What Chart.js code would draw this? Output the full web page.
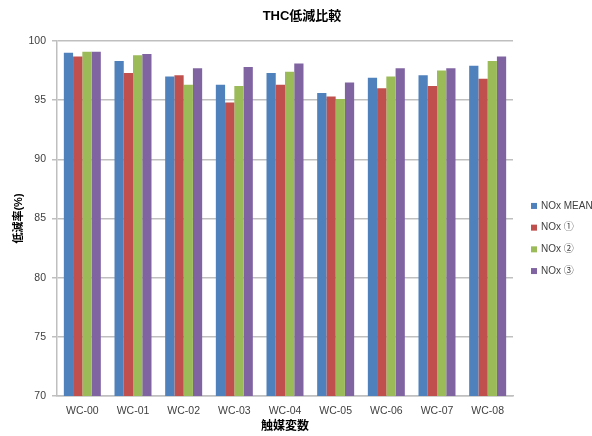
<!DOCTYPE html>
<html>
<head>
<meta charset="utf-8">
<script src="https://cdn.jsdelivr.net/npm/chart.js@4"></script>
<style>
  html, body { margin: 0; padding: 0; background: #fff; }
  #wrap { width: 592px; height: 436px; }
</style>
</head>
<body>
<div id="wrap"><canvas id="thcChart" width="592" height="436"></canvas></div>
<script>
// data
const categories = ["WC-00", "WC-01", "WC-02", "WC-03", "WC-04", "WC-05", "WC-06", "WC-07", "WC-08"];
const seriesNames = ["NOx MEAN", "NOx \u2460", "NOx \u2461", "NOx \u2462"];
const noxMean = [99.0, 98.3, 97.0, 96.3, 97.3, 95.6, 96.9, 97.1, 97.9];
const nox1 = [98.7, 97.3, 97.1, 94.8, 96.3, 95.3, 96.0, 96.2, 96.8];
const nox2 = [99.1, 98.8, 96.3, 96.2, 97.4, 95.1, 97.0, 97.5, 98.3];
const nox3 = [99.1, 98.9, 97.7, 97.8, 98.1, 96.5, 97.7, 97.7, 98.7];
const yMin = 70, yMax = 100, yStep = 5;

const colors = ["#4F81BD", "#C0504D", "#9BBB59", "#8064A2"];
const fontFamily = "'Liberation Sans', 'Noto Sans CJK JP', sans-serif";
const gridColor = "#bfbfbf";

// simple legend at the right, like Excel's
const sideLegend = {
  id: "sideLegend",
  afterDraw(chart) {
    const { ctx, chartArea } = chart;
    const step = 21.7;
    const x = chartArea.right + 18;
    const y0 = (chartArea.top + chartArea.bottom) / 2 - 1.5 * step + 20;
    ctx.save();
    ctx.font = "10px " + fontFamily;
    ctx.textBaseline = "middle";
    chart.data.datasets.forEach((ds, i) => {
      const y = y0 + i * step;
      ctx.fillStyle = ds.backgroundColor;
      ctx.fillRect(x, y - 3, 6, 6);
      ctx.fillStyle = "#404040";
      ctx.fillText(ds.label, x + 10, y);
    });
    ctx.restore();
  }
};

const seriesData = [noxMean, nox1, nox2, nox3];

new Chart(document.getElementById("thcChart"), {
  type: "bar",
  data: {
    labels: categories,
    datasets: seriesData.map((d, i) => ({
      label: seriesNames[i],
      data: d,
      backgroundColor: colors[i],
      borderWidth: 0,
      categoryPercentage: 0.73,
      barPercentage: 1.0,
    })),
  },
  options: {
    responsive: false,
    animation: false,
    layout: { padding: { left: 12, right: 0, top: 0, bottom: 0 } },
    plugins: {
      legend: { display: false },
      tooltip: { enabled: false },
      title: {
        display: true,
        text: "THC低減比較",
        color: "#000",
        font: { family: fontFamily, size: 13, weight: "bold" },
        padding: { top: 9, bottom: 16.4 },
      },
    },
    scales: {
      x: {
        grid: { display: false, drawTicks: false },
        border: { color: gridColor, width: 1.5 },
        ticks: { color: "#404040", font: { family: fontFamily, size: 10.5 }, padding: 9 },
        title: {
          display: true,
          text: "触媒変数",
          color: "#000",
          font: { family: fontFamily, size: 12, weight: "bold" },
          padding: { top: 0, bottom: 2 },
        },
        afterFit(scale) { scale.height = 40; },
      },
      y: {
        min: yMin,
        max: yMax,
        grid: { color: gridColor, lineWidth: 1.5, tickLength: 5, tickColor: gridColor },
        border: { color: gridColor, width: 1.5 },
        ticks: { stepSize: yStep, color: "#404040", font: { family: fontFamily, size: 10.5 }, padding: 6 },
        title: {
          display: true,
          text: "低減率(%)",
          color: "#000",
          font: { family: fontFamily, size: 11, weight: "bold" },
          padding: { top: 0, bottom: 0 },
        },
        afterFit(scale) { scale.width = 45; },
      },
      // empty right-hand band that leaves room for the legend
      legendSpace: {
        type: "linear",
        position: "right",
        grid: { display: false },
        border: { display: false },
        ticks: { display: false },
        afterFit(scale) { scale.width = 79; },
      },
    },
  },
  plugins: [sideLegend],
});
</script>
</body>
</html>
